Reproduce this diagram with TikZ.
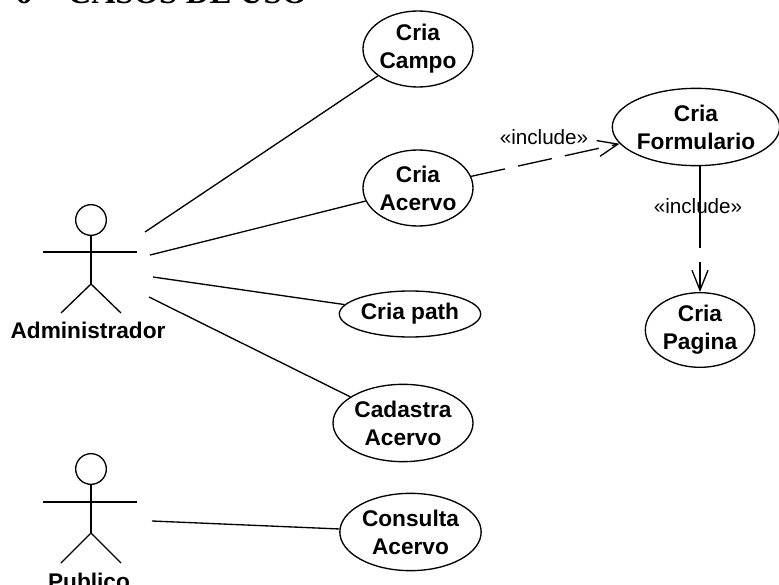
\documentclass[tikz,border=0pt]{standalone}
\usepackage{fontspec}
\setmainfont{Liberation Sans}
\newfontfamily\titlefont{Liberation Serif}
\usetikzlibrary{shapes.geometric,arrows.meta}
\tikzset{
	usecase/.style={ellipse,draw,line width=1pt,inner sep=0pt,align=center,font=\fontsize{17}{21}\selectfont\bfseries},
	actorname/.style={font=\fontsize{17}{21}\selectfont\bfseries},
	stereotype/.style={font=\fontsize{15.5}{18}\selectfont},
	assoc/.style={line width=1pt},
	incl/.style={line width=1pt,-{Straight Barb[length=15pt,width=12pt]}},
	stick/.style={line width=1pt},
}
\begin{document}
\begin{tikzpicture}[x=0.75pt,y=-0.75pt]
	\useasboundingbox[clip] (0,0) rectangle (779,585);
	\node[anchor=base west,inner sep=0pt,font=\fontsize{24.7}{26}\titlefont\bfseries] (title) at (15,4) {6\hspace{27pt}CASOS DE USO};
	% use cases
	\node[usecase,minimum width=82.5pt,minimum height=57pt] (campo) at (418,49) {Cria\\Campo};
	\node[usecase,minimum width=82.5pt,minimum height=57pt] (acervo) at (418,188) {Cria\\Acervo};
	\node[usecase,minimum width=106pt,minimum height=34.5pt] (path) at (410,314) {Cria path};
	\node[usecase,minimum width=105pt,minimum height=58pt] (cadastra) at (403,423) {Cadastra\\Acervo};
	\node[usecase,minimum width=106pt,minimum height=58pt] (consulta) at (410.5,532) {Consulta\\Acervo};
	\node[usecase,minimum width=124pt,minimum height=58pt] (formulario) at (696,127) {Cria\\Formulario};
	\node[usecase,minimum width=82pt,minimum height=56pt] (pagina) at (700,330) {Cria\\Pagina};
	% Administrador
	\node[circle,draw,line width=1pt,minimum size=23pt,inner sep=0pt] (headA) at (91,220) {};
	\coordinate (armAl) at (43,252);
	\coordinate (armAr) at (137,252);
	\coordinate (hipA) at (91,284);
	\coordinate (footAl) at (61,313);
	\coordinate (footAr) at (121,313);
	\draw[stick] (headA) -- (hipA);
	\draw[stick] (armAl) -- (armAr);
	\draw[stick] (footAl) -- (hipA) -- (footAr);
	\node[actorname] (admin) at (88,330) {Administrador};
	% Publico
	\node[circle,draw,line width=1pt,minimum size=23pt,inner sep=0pt] (headP) at (91,469) {};
	\coordinate (armPl) at (43,502);
	\coordinate (armPr) at (137,502);
	\coordinate (hipP) at (91,533);
	\coordinate (footPl) at (61,563);
	\coordinate (footPr) at (121,563);
	\draw[stick] (headP) -- (hipP);
	\draw[stick] (armPl) -- (armPr);
	\draw[stick] (footPl) -- (hipP) -- (footPr);
	\node[actorname] (publico) at (89,581) {Publico};
	% associations
	\coordinate (fromA1) at (145,232);
	\coordinate (fromA2) at (150,255);
	\coordinate (fromA3) at (153,277);
	\coordinate (fromA4) at (149,297);
	\coordinate (fromP) at (152,521);
	\draw[assoc] (fromA1) -- (campo);
	\draw[assoc] (fromA2) -- (acervo);
	\draw[assoc] (fromA3) -- (path);
	\draw[assoc] (fromA4) -- (cadastra);
	\draw[assoc] (fromP) -- (consulta);
	% includes
	\draw[incl,dash pattern=on 26pt off 10pt] (acervo) -- (formulario);
	\node[stereotype] (inclA) at (544,137) {«include»};
	\draw[incl,dash pattern=on 61.5pt off 10pt] (formulario.south -| pagina.north) -- (pagina.north);
	\node[stereotype] (inclB) at (698,206) {«include»};
\end{tikzpicture}
\end{document}
